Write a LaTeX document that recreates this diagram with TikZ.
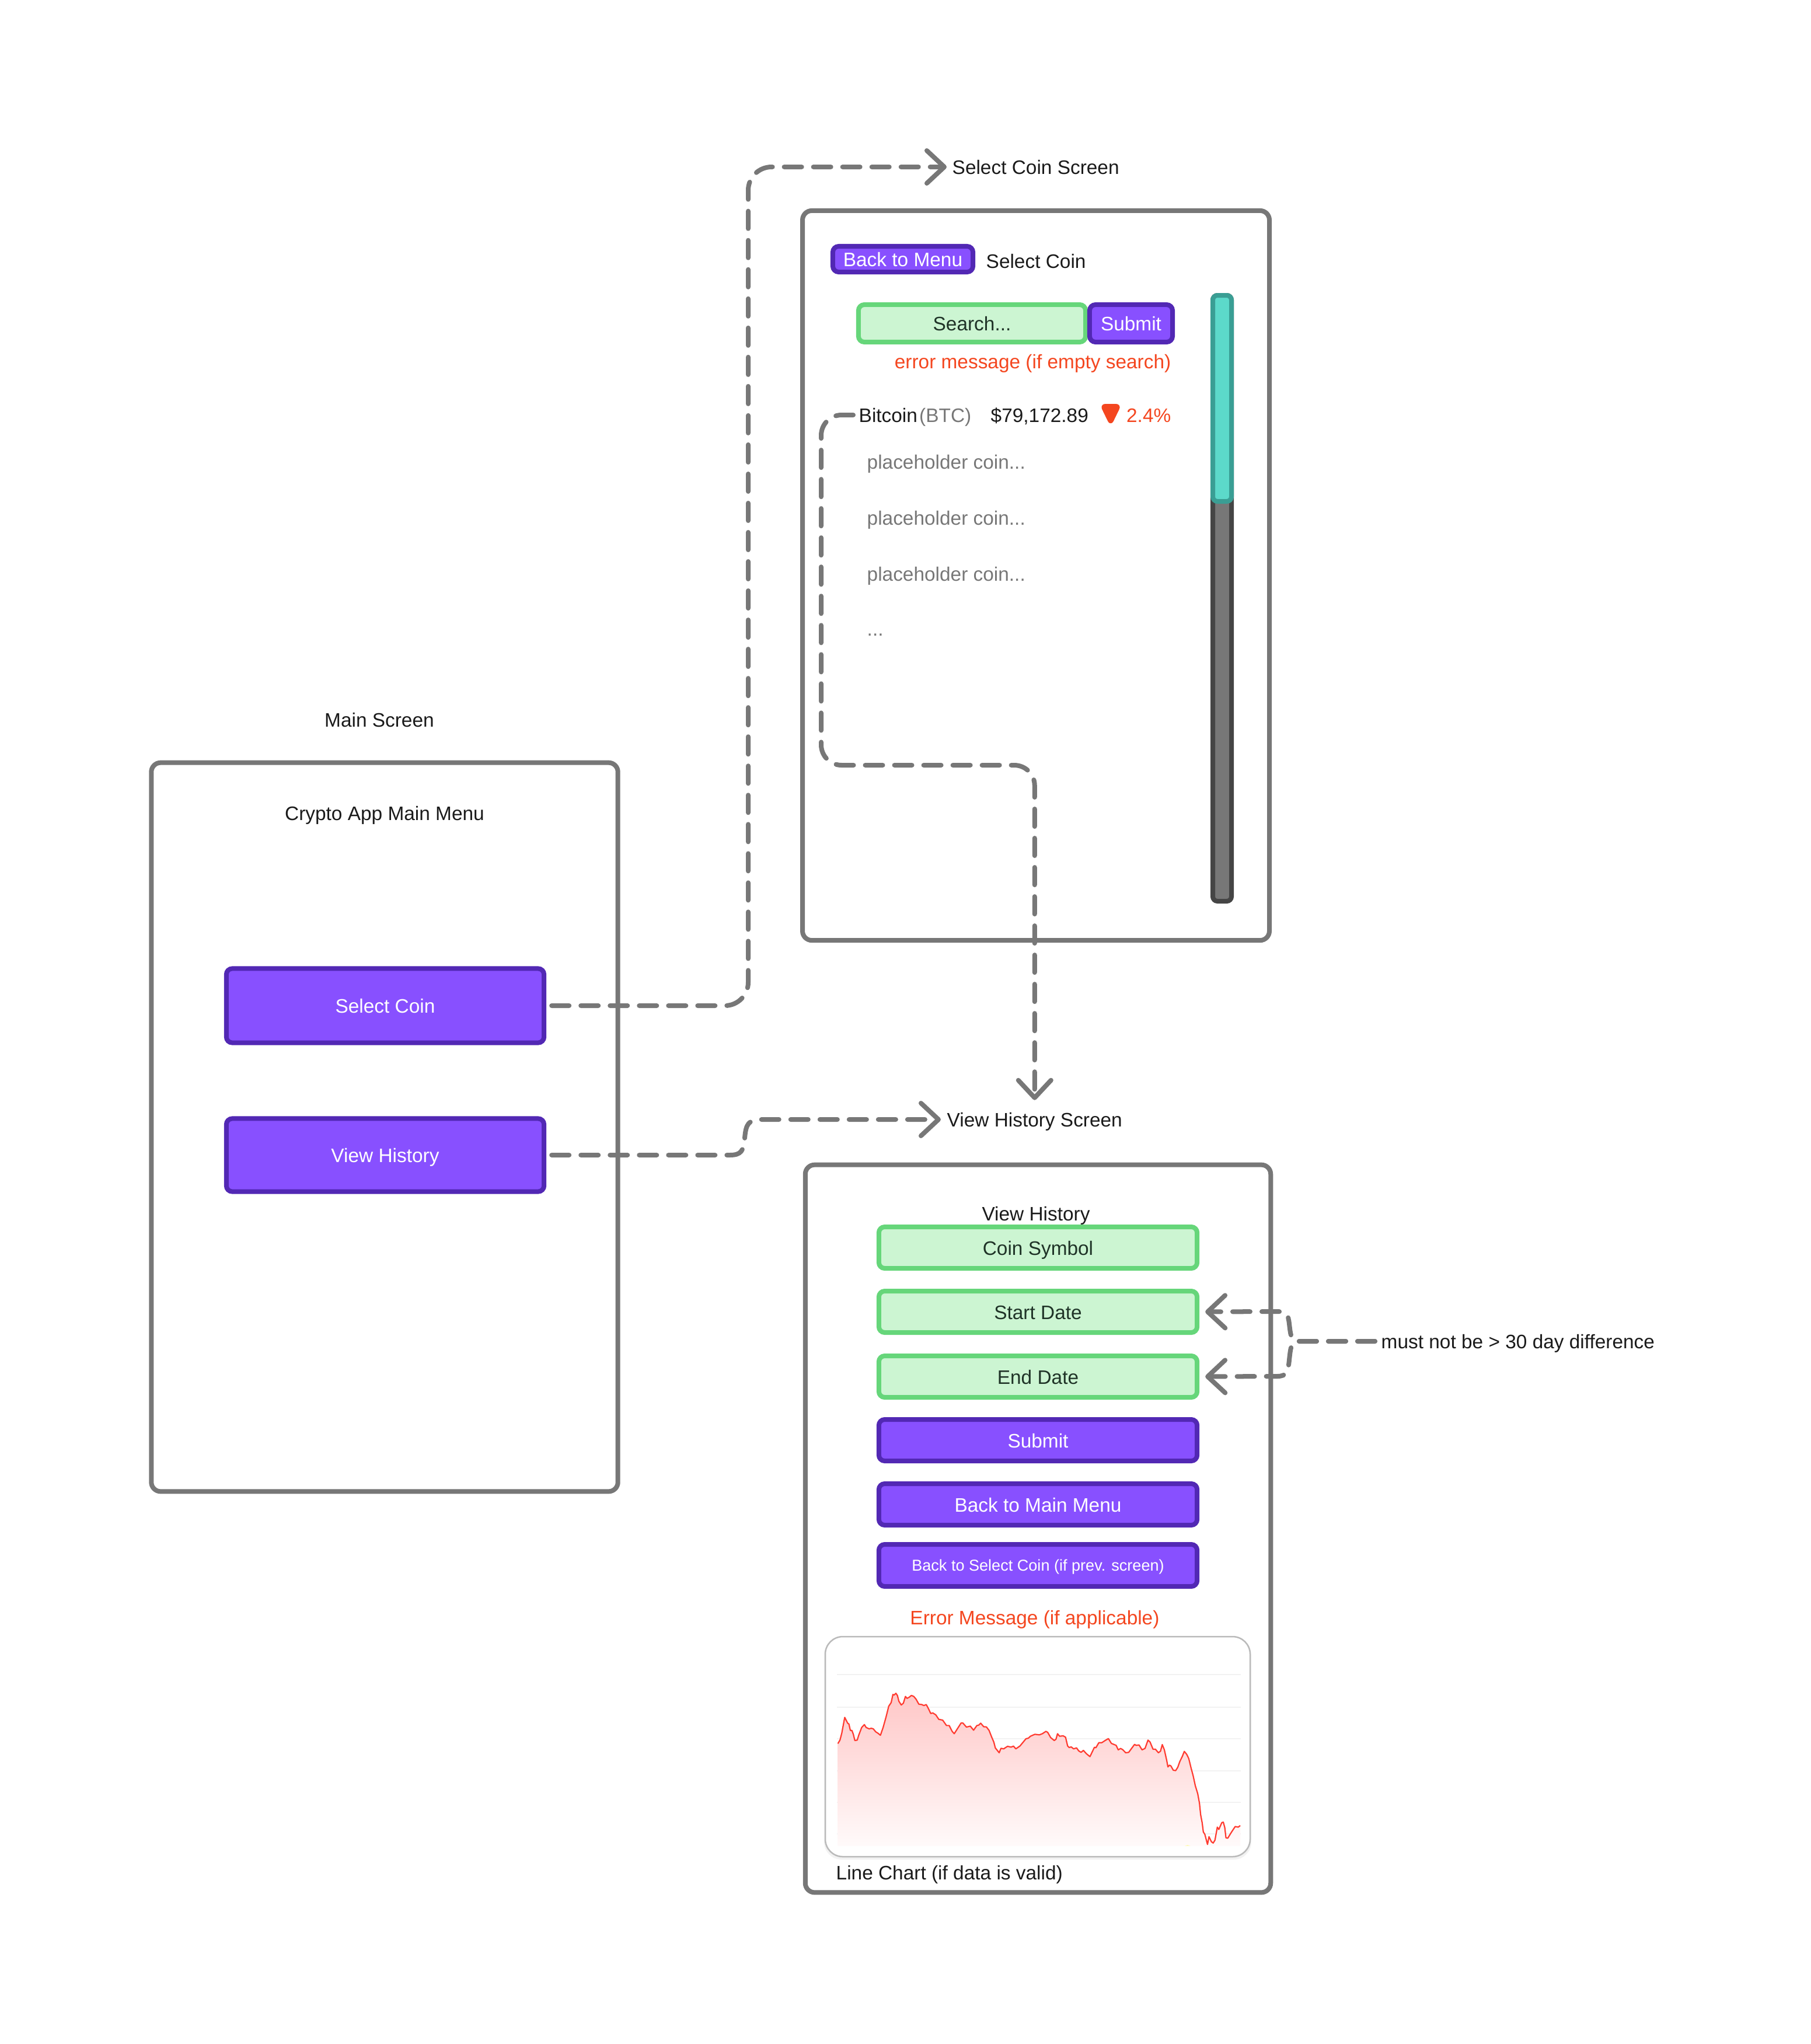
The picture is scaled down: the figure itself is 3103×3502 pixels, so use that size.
\documentclass[tikz,border=0pt]{standalone}
\usepackage{fontspec}
\setmainfont{Liberation Sans}
\usepackage{xcolor}
\usetikzlibrary{arrows.meta, positioning}
\definecolor{frameGray}{HTML}{777777}
\definecolor{btnFill}{HTML}{8850FF}
\definecolor{btnEdge}{HTML}{5228B4}
\definecolor{fieldFill}{HTML}{CCF5D2}
\definecolor{fieldEdge}{HTML}{66D67A}
\definecolor{thumbFill}{HTML}{5CD9CA}
\definecolor{thumbEdge}{HTML}{3A9E94}
\definecolor{errRed}{HTML}{F4461F}
\definecolor{ink}{HTML}{1A1A1A}
\definecolor{fieldInk}{HTML}{1F3327}
\definecolor{chartRed}{HTML}{FF3B30}
\tikzset{
  screen/.style ={rectangle, rounded corners=0.16cm, draw=frameGray, line width=0.08cm},
  btn/.style    ={rectangle, rounded corners=0.1cm, draw=btnEdge, fill=btnFill, text=white,
                  line width=0.08cm, inner sep=0pt, text height=0.25cm, text depth=0pt,
                  font=\fontsize{9.5}{12}\selectfont},
  field/.style  ={rectangle, rounded corners=0.1cm, draw=fieldEdge, fill=fieldFill, text=fieldInk,
                  line width=0.08cm, inner sep=0pt, text height=0.25cm, text depth=0pt,
                  font=\fontsize{9.5}{12}\selectfont},
  lbl/.style    ={inner sep=0pt, text=ink, text height=0.25cm, text depth=0pt,
                  font=\fontsize{9.5}{12}\selectfont},
  hintlbl/.style={lbl, text=frameGray},
  errlbl/.style ={lbl, text=errRed},
  flow/.style   ={draw=frameGray, line width=0.08cm, line cap=round, line join=round,
                  dash pattern=on 0.3cm off 0.2cm,
                  -{Straight Barb[length=0.3cm, width=0.56cm, line cap=round, round]}},
}
\def\chartTrace{(113,683) -- (120,665) -- (126,630) -- (136,548) -- (146,578) -- (150,582) -- (155,615) -- (160,615) -- (165,635) -- (170,667) -- (178,665) -- (183,640) -- (193,600) -- (202,585) -- (208,600) -- (218,607) -- (225,604) -- (232,607) -- (240,622) -- (248,630) -- (256,640) -- (265,600) -- (275,545) -- (284,490) -- (292,472) -- (298,430) -- (302,433) -- (308,424) -- (313,435) -- (318,465) -- (326,484) -- (333,475) -- (340,440) -- (345,450) -- (352,445) -- (360,435) -- (368,440) -- (376,455) -- (385,480) -- (395,482) -- (402,487) -- (410,482) -- (418,505) -- (425,528) -- (432,525) -- (442,535) -- (452,558) -- (465,562) -- (478,590) -- (487,590) -- (497,620) -- (504,632) -- (514,608) -- (527,577) -- (533,577) -- (545,598) -- (558,593) -- (569,614) -- (580,590) -- (586,588) -- (593,578) -- (603,596) -- (612,597) -- (621,615) -- (630,650) -- (637,675) -- (642,705) -- (655,730) -- (661,707) -- (670,710) -- (683,697) -- (695,701) -- (703,696) -- (711,710) -- (725,695) -- (745,658) -- (753,655) -- (760,645) -- (775,635) -- (790,638) -- (800,632) -- (812,620) -- (818,625) -- (828,652) -- (840,667) -- (846,660) -- (851,632) -- (858,645) -- (870,643) -- (878,650) -- (885,695) -- (890,703) -- (897,700) -- (905,710) -- (915,705) -- (922,720) -- (930,728) -- (938,718) -- (948,735) -- (960,750) -- (975,702) -- (980,704) -- (990,678) -- (1000,678) -- (1010,668) -- (1022,657) -- (1032,682) -- (1048,692) -- (1055,715) -- (1063,708) -- (1070,714) -- (1080,730) -- (1090,728) -- (1110,687) -- (1115,692) -- (1125,690) -- (1135,715) -- (1145,708) -- (1155,665) -- (1162,675) -- (1172,712) -- (1180,712) -- (1190,730) -- (1197,722) -- (1203,688) -- (1210,715) -- (1218,770) -- (1222,803) -- (1227,794) -- (1232,798) -- (1240,820) -- (1248,822) -- (1255,805) -- (1262,775) -- (1270,750) -- (1277,723) -- (1285,738) -- (1292,760) -- (1300,810) -- (1307,850) -- (1314,900) -- (1322,940) -- (1328,990) -- (1332,1050) -- (1337,1090) -- (1341,1138) -- (1346,1150) -- (1355,1202) -- (1360,1162) -- (1368,1188) -- (1374,1195) -- (1380,1180) -- (1388,1113) -- (1393,1125) -- (1403,1090) -- (1408,1087) -- (1413,1115) -- (1417,1168) -- (1423,1170) -- (1435,1140) -- (1448,1110) -- (1458,1113) -- (1465,1105)}

\begin{document}
\begin{tikzpicture}[x=0.01cm, y=-0.01cm]
  \useasboundingbox (0,0) rectangle (3103,3502);

  % ── Main screen ────────────────────────────────────────────────────
  \node[lbl] (mainLabel) at (650,1233) {Main Screen};
  \node[screen, minimum width=7.99cm, minimum height=12.48cm] (mainFrame) at (659,1931) {};
  \node[lbl] (mainTitle) at (659,1393) {Crypto App Main Menu};
  \node[btn, minimum width=5.44cm, minimum height=1.27cm] (selectBtn) at (660,1723) {Select Coin};
  \node[btn, minimum width=5.44cm, minimum height=1.25cm] (viewBtn)   at (660,1979) {View History};

  % ── Select coin screen ─────────────────────────────────────────────
  \node[lbl, anchor=west] (selectLabel) at (1631,286) {Select Coin Screen};
  \node[screen, minimum width=7.995cm, minimum height=12.495cm] (selectFrame) at (1775,986) {};
  \node[btn, minimum width=2.4cm, minimum height=0.44cm] (backMenu) at (1547,444) {Back to Menu};
  \node[lbl, anchor=west] (selectTitle) at (1689,447) {Select Coin};
  \node[field, minimum width=3.89cm, minimum height=0.64cm] (searchBox) at (1665.5,554) {Search...};
  \node[btn, minimum width=1.42cm, minimum height=0.64cm] (searchBtn) at (1938,554) {Submit};
  \node[errlbl, anchor=east] (searchErr) at (2007,619) {error message (if empty search)};
  \node[lbl, anchor=west] (bitcoin) at (1471,711) {Bitcoin};
  \node[hintlbl, anchor=east] (ticker) at (1665,711) {(BTC)};
  \node[lbl, anchor=west] (price) at (1697,711) {\$79,172.89};
  \draw[fill=errRed, draw=errRed, line width=0.04cm, line join=round, rounded corners=0.07cm]
        (1887,694) -- (1919,694) -- (1903,727) -- cycle;
  \node[errlbl, anchor=east] (change) at (2007,711) {2.4\%};
  \node[hintlbl, anchor=west] (coinA) at (1485,791) {placeholder coin...};
  \node[hintlbl, anchor=west] (coinB) at (1485,887) {placeholder coin...};
  \node[hintlbl, anchor=west] (coinC) at (1485,983) {placeholder coin...};
  \node[hintlbl, anchor=base west] (coinD) at (1485,1089) {...};

  % scroll bar
  \draw[draw=black!73, fill=frameGray, line width=0.08cm, rounded corners=0.08cm]
        (2078,506) rectangle (2110,1544);
  \draw[draw=thumbEdge, fill=thumbFill, line width=0.08cm, rounded corners=0.08cm]
        (2078,506) rectangle (2110,859);

  % ── View history screen ────────────────────────────────────────────
  \node[lbl, anchor=west] (historyLabel) at (1622,1918) {View History Screen};
  \node[screen, minimum width=7.97cm, minimum height=12.46cm] (historyFrame) at (1778.5,2619) {};
  \node[lbl] (historyTitle) at (1775,2079) {View History};
  \node[field, minimum width=5.45cm, minimum height=0.71cm] (coinField)  at (1778.5,2137.5) {Coin Symbol};
  \node[field, minimum width=5.45cm, minimum height=0.71cm] (startField) at (1778.5,2247.5) {Start Date};
  \node[field, minimum width=5.45cm, minimum height=0.71cm] (endField)   at (1778.5,2358.5) {End Date};
  \node[btn, minimum width=5.45cm, minimum height=0.71cm] (submitBtn)   at (1778.5,2467.5) {Submit};
  \node[btn, minimum width=5.45cm, minimum height=0.71cm] (backMainBtn) at (1778.5,2577.5) {Back to Main Menu};
  \node[btn, minimum width=5.45cm, minimum height=0.72cm, text height=0.19cm, font=\fontsize{7.7}{9}\selectfont]
        (backCoinBtn) at (1778.5,2682) {Back to Select Coin (if prev. screen)};
  \node[errlbl] (historyErr) at (1773,2771) {Error Message (if applicable)};
  \node[lbl, anchor=west] (chartLabel) at (1432,3208) {Line Chart (if data is valid)};
  \node[lbl, anchor=west] (rangeNote) at (2366,2298) {must not be > 30 day difference};

  % ── Line chart ─────────────────────────────────────────────────────
  \fill[black!5, rounded corners=0.3cm] (1412,2806) rectangle (2144,3186);
  \draw[black!27, fill=white, line width=0.025cm, rounded corners=0.3cm] (1414,2804) rectangle (2142,3181);
  \foreach \gy in {2869,2925,2979,3034,3088,3142}
    \draw[black!5, line width=0.02cm] (1434,\gy) -- (2126,\gy);
  \begin{scope}[shift={(1378,2760)}, x=0.005102cm, y=-0.003333cm]
    \shade[top color=red!22, bottom color=red!2] \chartTrace -- (1465,1210) -- (113,1210) -- cycle;
    \draw[chartRed, line width=0.022cm, line join=round] \chartTrace;
    \fill[yellow!35] (1278,1210) -- (1288,1205) -- (1298,1210) -- cycle;
  \end{scope}

  % ── Connectors ─────────────────────────────────────────────────────
  \coordinate (selectBend) at (1282,286);
  \coordinate (coinBend) at (1407,1311);
  \coordinate (braceJoin) at (2222,2298);
  \draw[flow, rounded corners=0.4cm, shorten <=0.09cm, shorten >=0.09cm]
        (selectBtn.east) -| (selectBend) -- (selectLabel.west);
  \draw[flow, shorten <=0.09cm, shorten >=0.1cm]
        (viewBtn.east) -- (1250,1979) .. controls (1270,1979) and (1274,1972) .. (1276,1950)
        .. controls (1278,1925) and (1283,1918) .. (1305,1918) -- (historyLabel.west);
  \draw[flow, rounded corners=0.35cm, shorten <=0.09cm, shorten >=0.2cm]
        (bitcoin.west) -| (coinBend) -| (historyLabel.north);
  \draw[flow, shorten <=0.1cm, shorten >=0.1cm]
        (rangeNote.west) -- (braceJoin) .. controls (2212,2298) and (2211,2285) .. (2209,2268)
        .. controls (2207,2252) and (2205,2247) .. (2188,2247) -- (startField.east);
  \draw[flow, shorten <=0.1cm, shorten >=0.1cm]
        (rangeNote.west) -- (braceJoin) .. controls (2212,2298) and (2211,2312) .. (2209,2330)
        .. controls (2207,2350) and (2205,2358) .. (2188,2358) -- (endField.east);
\end{tikzpicture}
\end{document}
